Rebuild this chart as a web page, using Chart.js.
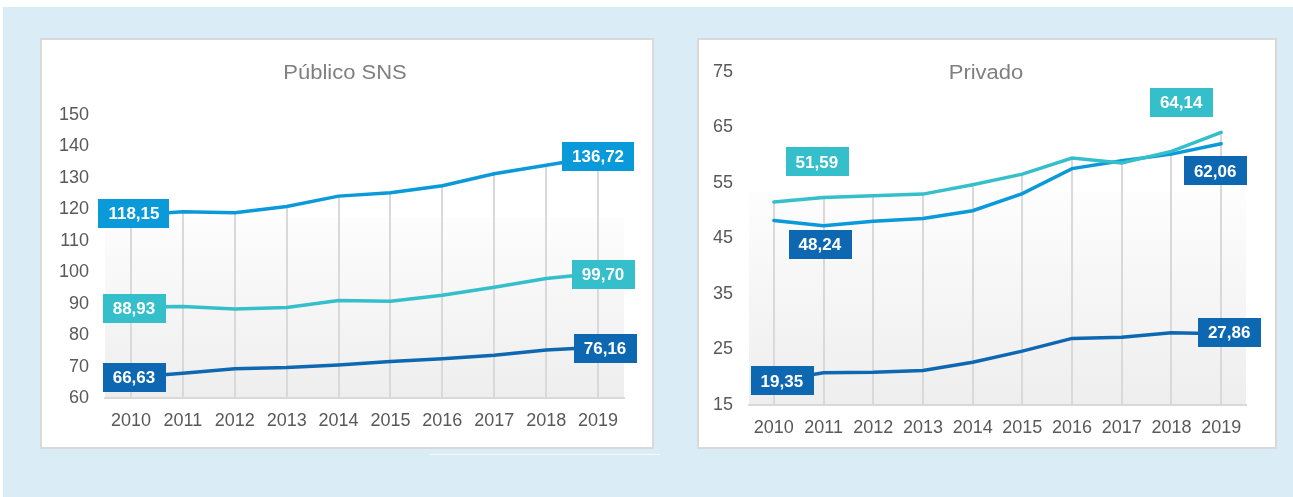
<!DOCTYPE html>
<html><head><meta charset="utf-8">
<script src="https://cdn.jsdelivr.net/npm/chart.js@4/dist/chart.umd.min.js"></script>
<style>
html,body{margin:0;padding:0;background:#fff;width:1293px;height:497px;overflow:hidden;position:relative;font-family:"Liberation Sans",Arial,sans-serif}
#bg{position:absolute;left:3px;top:7px;width:1290px;height:490px;background:#daedf6}
.panel{position:absolute;background:#fff;border:2px solid #d9d9d9;box-sizing:border-box}
#p1{left:40px;top:38px;width:614px;height:411px}
#p2{left:697px;top:38px;width:580px;height:411px}
#wl{position:absolute;left:430px;top:454px;width:230px;height:1px;background:#f4fafd}
canvas{position:absolute}
#c1{left:40px;top:38px}
#c2{left:697px;top:38px}
</style></head>
<body>
<div id="bg"></div>
<div class="panel" id="p1"></div>
<div class="panel" id="p2"></div>
<div id="wl"></div>
<canvas id="c1" width="614" height="410"></canvas>
<canvas id="c2" width="580" height="410"></canvas>
<script>
// ---- data ----
const years = ['2010','2011','2012','2013','2014','2015','2016','2017','2018','2019'];
const publicoTop = [118.15,119.2,118.9,120.9,124.2,125.3,127.5,131.3,134.0,136.72];
const publicoMid = [88.93,89.1,88.3,88.8,91.0,90.8,92.7,95.2,98.0,99.70];
const publicoLow = [66.63,67.9,69.3,69.7,70.5,71.6,72.5,73.6,75.3,76.16];
const privadoTop = [51.59,52.4,52.7,53.0,54.7,56.6,59.5,58.6,60.7,64.14];
const privadoMid = [48.24,47.3,48.1,48.6,50.0,53.1,57.6,59.0,60.2,62.06];
const privadoLow = [19.35,20.8,20.9,21.2,22.7,24.7,27.0,27.2,28.0,27.86];
const ticksPublico = [60,70,80,90,100,110,120,130,140,150];
const ticksPrivado = [15,25,35,45,55,65,75];
const titlePublico = 'Público SNS';
const titlePrivado = 'Privado';

// ---- styles ----
const C_MID = '#0a99d9', C_TEAL = '#35bfcb', C_DARK = '#0e68b1';
const FONT = '"Liberation Sans", Arial, sans-serif';

const plotBg = {
  id:'plotBg',
  beforeDraw(chart, args, o){
    const {ctx, chartArea:a} = chart;
    const top = a.top + (a.bottom-a.top)*o.start;
    const g = ctx.createLinearGradient(0, top, 0, a.bottom);
    g.addColorStop(0, '#fdfdfd'); g.addColorStop(1, '#eeeeee');
    ctx.save(); ctx.fillStyle = g; ctx.fillRect(a.left, top, a.right-a.left, a.bottom-top); ctx.restore();
  }
};
const dropLines = {
  id:'dropLines',
  beforeDatasetsDraw(chart){
    const {ctx, chartArea:a, scales:{x, y}} = chart;
    ctx.save(); ctx.strokeStyle = '#d9d9d9'; ctx.lineWidth = 2;
    chart.data.labels.forEach((l, i) => {
      const m = Math.max(...chart.data.datasets.map(d => d.data[i]));
      const px = Math.round(x.getPixelForValue(i));
      ctx.beginPath(); ctx.moveTo(px, y.getPixelForValue(m)); ctx.lineTo(px, a.bottom); ctx.stroke();
    });
    ctx.restore();
  }
};
const boxLabels = {
  id:'boxLabels',
  afterDatasetsDraw(chart, args, o){
    const {ctx, scales:{x, y}} = chart;
    ctx.save();
    ctx.font = 'bold 17px ' + FONT; ctx.textAlign = 'center'; ctx.textBaseline = 'middle';
    (o.items||[]).forEach(it => {
      const v = chart.data.datasets[it.ds].data[it.i];
      const txt = v.toFixed(2).replace('.', ',');
      const cx = x.getPixelForValue(it.i) + it.dx, cy = y.getPixelForValue(v) + it.dy;
      const w = ctx.measureText(txt).width + 20, h = 29;
      ctx.fillStyle = it.color; ctx.fillRect(Math.round(cx - w/2), Math.round(cy - h/2), Math.round(w), h);
      ctx.fillStyle = '#ffffff'; ctx.fillText(txt, cx, cy + 1);
    });
    ctx.restore();
  }
};
const panelTitle = {
  id:'panelTitle',
  afterDraw(chart, args, o){
    const ctx = chart.ctx;
    ctx.save(); ctx.font = '20px ' + FONT; ctx.fillStyle = '#7f7f7f';
    ctx.textAlign = 'center'; ctx.textBaseline = 'middle';
    ctx.translate(o.x, o.y); ctx.scale(1.1, 1); ctx.fillText(o.text, 0, 0);
    ctx.restore();
  }
};

function makeChart(id, series, colors, tickVals, pad, yW, xH, labelItems, title, tx){
  return new Chart(document.getElementById(id), {
    type:'line',
    data:{ labels: years, datasets: series.map((s, k) => ({
      data: s, borderColor: colors[k], backgroundColor: colors[k], borderWidth: 3.5,
      pointRadius: 0, tension: 0, fill: false, borderCapStyle: 'round' })) },
    options:{
      responsive:false, animation:false, devicePixelRatio:1,
      layout:{ padding: pad },
      plugins:{ legend:{display:false}, tooltip:{enabled:false},
        plotBg:{ start:0.36 },
        boxLabels:{ items: labelItems },
        panelTitle:{ text: title, x: tx, y: 35 } },
      scales:{
        x:{ offset:true, grid:{display:false, drawTicks:false},
            border:{display:true, color:'#d9d9d9', width:2},
            ticks:{ color:'#595959', font:{size:18, family:FONT}, padding:12, maxRotation:0, autoSkip:false },
            afterFit(s){ s.height = xH; } },
        y:{ min: tickVals[0], max: tickVals[tickVals.length-1],
            grid:{display:false, drawTicks:false}, border:{display:false},
            afterBuildTicks(s){ s.ticks = tickVals.map(v => ({value:v})); },
            ticks:{ color:'#595959', font:{size:18, family:FONT}, padding:16 },
            afterFit(s){ s.width = yW; } }
      }
    },
    plugins:[plotBg, dropLines, boxLabels, panelTitle]
  });
}

makeChart('c1', [publicoTop, publicoMid, publicoLow], [C_MID, C_TEAL, C_DARK], ticksPublico,
  {top:77, right:30, left:0, bottom:0}, 65, 50,
  [ {ds:0,i:0,dx:3,dy:-2,color:C_MID}, {ds:0,i:9,dx:0,dy:0,color:C_MID},
    {ds:1,i:0,dx:3,dy:1,color:C_TEAL}, {ds:1,i:9,dx:5,dy:1,color:C_TEAL},
    {ds:2,i:0,dx:3,dy:0,color:C_DARK}, {ds:2,i:9,dx:7,dy:1,color:C_DARK} ],
  titlePublico, 305);

makeChart('c2', [privadoTop, privadoMid, privadoLow], [C_TEAL, C_MID, C_DARK], ticksPrivado,
  {top:34, right:31, left:0, bottom:0}, 52, 43,
  [ {ds:0,i:0,dx:43,dy:-40,color:C_TEAL}, {ds:0,i:9,dx:-40,dy:-30,color:C_TEAL},
    {ds:1,i:0,dx:46,dy:24,color:C_DARK}, {ds:1,i:9,dx:-6,dy:27,color:C_DARK},
    {ds:2,i:0,dx:8,dy:0,color:C_DARK}, {ds:2,i:9,dx:8,dy:-1,color:C_DARK} ],
  titlePrivado, 289);
</script>
</body></html>
